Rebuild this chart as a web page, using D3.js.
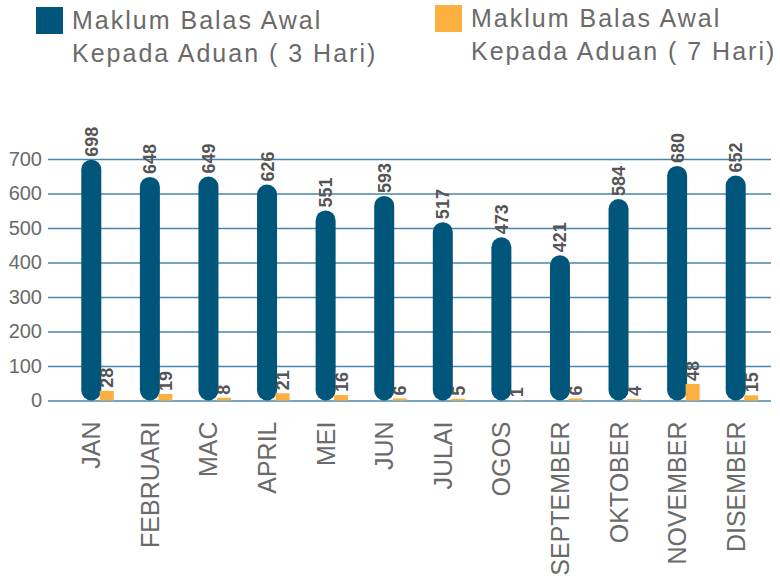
<!DOCTYPE html>
<html>
<head>
<meta charset="utf-8">
<script src="https://cdn.jsdelivr.net/npm/d3@7"></script>
<style>
  html, body { margin: 0; padding: 0; background: #ffffff; }
  svg { display: block; }
</style>
</head>
<body>
<div id="chart"></div>
<script>
const months = ["JAN", "FEBRUARI", "MAC", "APRIL", "MEI", "JUN", "JULAI", "OGOS", "SEPTEMBER", "OKTOBER", "NOVEMBER", "DISEMBER"];
const series3Hari = [698, 648, 649, 626, 551, 593, 517, 473, 421, 584, 680, 652];
const series7Hari = [28, 19, 8, 21, 16, 6, 5, 1, 6, 4, 48, 15];
const seriesNames = ["Maklum Balas Awal|Kepada Aduan ( 3 Hari)", "Maklum Balas Awal|Kepada Aduan ( 7 Hari)"];
const yTicks = [0, 100, 200, 300, 400, 500, 600, 700];

const W = 780, H = 580;
const colors = ["#00567a", "#fbb040"];
const textGrey = "#6a6a6a";
const gridColor = "#4a86aa";

const svg = d3.select("#chart").append("svg")
  .attr("width", W).attr("height", H);

const x = d3.scaleBand().domain(months).range([62, 765]).padding(0);
const y = d3.scaleLinear().domain([0, 700]).range([400.5, 159]);

// gridlines via axis
const yAxis = d3.axisLeft(y).tickValues(yTicks).tickSize(-(771 - 48)).tickPadding(6);
const gy = svg.append("g").attr("transform", "translate(48,0)").call(yAxis);
gy.select(".domain").remove();
gy.selectAll(".tick line").attr("stroke", gridColor).attr("stroke-width", 1.5);
gy.selectAll(".tick text")
  .attr("fill", textGrey)
  .attr("font-family", "'Liberation Sans', Arial, sans-serif")
  .attr("font-size", 20);

const cx = m => x(m) + x.bandwidth() / 2;
const blueW = 20, orangeW = 14, orangeOff = 8.5;

// blue rounded bars
svg.append("g").selectAll("rect")
  .data(months.map((m, i) => ({ m, v: series3Hari[i] })))
  .join("rect")
  .attr("x", d => cx(d.m) - blueW / 2)
  .attr("y", d => y(d.v))
  .attr("width", blueW)
  .attr("height", d => y(0) - y(d.v))
  .attr("rx", blueW / 2).attr("ry", blueW / 2)
  .attr("fill", colors[0]);

// orange bars
svg.append("g").selectAll("rect")
  .data(months.map((m, i) => ({ m, v: series7Hari[i] })))
  .join("rect")
  .attr("x", d => cx(d.m) + orangeOff)
  .attr("y", d => y(d.v))
  .attr("width", orangeW)
  .attr("height", d => y(0) - y(d.v))
  .attr("fill", colors[1]);

// value labels
const labelFont = "'Liberation Sans', Arial, sans-serif";
svg.append("g").selectAll("text")
  .data(months.map((m, i) => ({ m, v: series3Hari[i] })))
  .join("text")
  .attr("transform", d => `translate(${cx(d.m)},${y(d.v) - 3}) rotate(-90)`)
  .attr("dy", "0.36em")
  .attr("text-anchor", "start")
  .attr("font-family", labelFont)
  .attr("font-weight", "bold")
  .attr("font-size", 18)
  .attr("fill", "#555555")
  .text(d => d.v);

svg.append("g").selectAll("text")
  .data(months.map((m, i) => ({ m, v: series7Hari[i] })))
  .join("text")
  .attr("transform", d => `translate(${cx(d.m) + orangeOff + orangeW / 2},${y(d.v) - 3}) rotate(-90)`)
  .attr("dy", "0.36em")
  .attr("text-anchor", "start")
  .attr("font-family", labelFont)
  .attr("font-weight", "bold")
  .attr("font-size", 18)
  .attr("fill", "#555555")
  .text(d => d.v);

// x axis labels
const xAxis = d3.axisBottom(x).tickSize(0).tickPadding(0);
const gx = svg.append("g").attr("transform", `translate(0,${y(0)})`).call(xAxis);
gx.select(".domain").remove();
gx.selectAll(".tick")
  .attr("transform", d => `translate(${cx(d)},0)`);
gx.selectAll(".tick text")
  .attr("transform", "translate(0,21) rotate(-90)")
  .attr("x", 0).attr("y", 0)
  .attr("dy", "0.36em")
  .attr("text-anchor", "end")
  .attr("fill", textGrey)
  .attr("font-family", "'Liberation Sans', Arial, sans-serif")
  .attr("font-size", 25);

// legend
const legendPos = [{ x: 36, y: 7 }, { x: 435, y: 5 }];
const lg = svg.append("g").selectAll("g")
  .data(seriesNames.map((n, i) => ({ n, i })))
  .join("g")
  .attr("transform", d => `translate(${legendPos[d.i].x},${legendPos[d.i].y})`);
lg.append("rect")
  .attr("width", 27).attr("height", 27)
  .attr("fill", d => colors[d.i]);
lg.each(function (d) {
  const lines = d.n.split("|");
  d3.select(this).selectAll("text")
    .data(lines)
    .join("text")
    .attr("x", 36)
    .attr("y", (l, j) => 21.5 + j * 33)
    .attr("fill", textGrey)
    .attr("font-family", "'Liberation Sans', Arial, sans-serif")
    .attr("font-size", 25)
    .attr("letter-spacing", 2)
    .text(l => l);
});
</script>
</body>
</html>
